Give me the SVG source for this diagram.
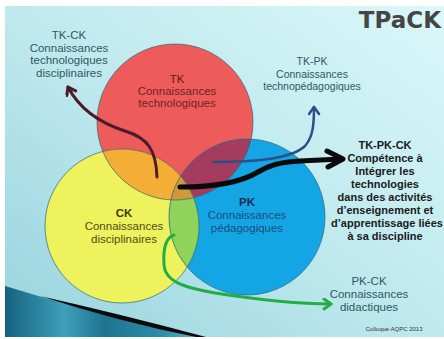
<svg xmlns="http://www.w3.org/2000/svg" width="444" height="339" viewBox="0 0 444 339">
<style>
  .lbl { font-family: "Liberation Sans", Arial, sans-serif; font-size: 11.5px; text-anchor: middle; }
  .teal { fill: #2f5862; }
  .b { font-weight: bold; }
  .outline { fill: none; stroke: #2d6575; stroke-width: 1; stroke-opacity: 0.7; }
  .conn { fill: none; stroke-linecap: round; stroke-linejoin: round; }
</style>
<defs>
  <linearGradient id="bg" x1="0" y1="1" x2="1" y2="0">
    <stop offset="0" stop-color="#98d3de"/>
    <stop offset="0.5" stop-color="#bfe9ee"/>
    <stop offset="1" stop-color="#dbf7f9"/>
  </linearGradient>
  <linearGradient id="swoosh" x1="5" y1="0" x2="205" y2="0" gradientUnits="userSpaceOnUse">
    <stop offset="0" stop-color="#14637e"/>
    <stop offset="0.3" stop-color="#3f9fbd"/>
    <stop offset="0.5" stop-color="#1c7490"/>
    <stop offset="0.8" stop-color="#2f8eab"/>
    <stop offset="1" stop-color="#6cc0d6"/>
  </linearGradient>
  <clipPath id="clipR"><circle cx="175" cy="122" r="78"/></clipPath>
  <clipPath id="clipY"><circle cx="122" cy="226" r="77"/></clipPath>
  <marker id="mMaroon" markerUnits="userSpaceOnUse" markerWidth="14" markerHeight="14" refX="9" refY="6" orient="auto">
    <path d="M2,1 L9,6 L2,11" fill="none" stroke="#4d1a2a" stroke-width="3" stroke-linecap="round" stroke-linejoin="round"/>
  </marker>
  <marker id="mBlue" markerUnits="userSpaceOnUse" markerWidth="14" markerHeight="14" refX="9" refY="6" orient="auto">
    <path d="M2,1 L9,6 L2,11" fill="none" stroke="#2c4f8a" stroke-width="2.5" stroke-linecap="round" stroke-linejoin="round"/>
  </marker>
  <marker id="mGreen" markerUnits="userSpaceOnUse" markerWidth="14" markerHeight="14" refX="9" refY="6" orient="auto">
    <path d="M2,1 L9,6 L2,11" fill="none" stroke="#22ad45" stroke-width="3" stroke-linecap="round" stroke-linejoin="round"/>
  </marker>
</defs>

<!-- frame and background -->
<rect x="0" y="0" width="444" height="339" fill="#ffffff"/>
<rect x="5" y="6" width="439" height="331" fill="url(#bg)"/>
<path d="M5,286 L45,298 L205,337 L5,337 Z" fill="url(#swoosh)"/>
<path d="M40,296 Q120,314 206,337 L196,337 Q120,322 40,296 Z" fill="#0a0a0a"/>

<text x="441" y="28" font-family="DejaVu Sans, sans-serif" font-size="23" font-weight="bold" fill="#454545" text-anchor="end">TPaCK</text>

<!-- circles -->
<g id="node-tk">
  <circle cx="175" cy="122" r="78" fill="#ee5b5b"/>
</g>
<g id="node-ck">
  <circle cx="122" cy="226" r="77" fill="#eef25c"/>
</g>
<g id="node-pk">
  <circle cx="247" cy="217" r="78" fill="#14a6e4"/>
</g>
<g id="overlaps">
  <circle cx="122" cy="226" r="77" fill="#f4ae36" clip-path="url(#clipR)"/>
  <circle cx="247" cy="217" r="78" fill="#a43c60" clip-path="url(#clipR)"/>
  <circle cx="247" cy="217" r="78" fill="#8fd35a" clip-path="url(#clipY)"/>
  <g clip-path="url(#clipR)">
    <circle cx="247" cy="217" r="78" fill="#d09a3c" clip-path="url(#clipY)"/>
  </g>
</g>
<g id="outlines">
  <circle class="outline" cx="175" cy="122" r="78"/>
  <circle class="outline" cx="122" cy="226" r="77"/>
  <circle class="outline" cx="247" cy="217" r="78"/>
</g>

<!-- circle labels -->
<g id="label-tk" class="lbl" fill="#6e2424">
  <text x="177" y="83" fill="#5a1c1c">TK</text>
  <text x="177" y="95">Connaissances</text>
  <text x="177" y="107">technologiques</text>
</g>
<g id="label-ck" class="lbl" fill="#4e4e16">
  <text x="124" y="217" class="b" fill="#3a3a10">CK</text>
  <text x="124" y="230">Connaissances</text>
  <text x="124" y="243">disciplinaires</text>
</g>
<g id="label-pk" class="lbl" fill="#1d4c7a">
  <text x="247" y="206" class="b" fill="#1a2a50">PK</text>
  <text x="247" y="219">Connaissances</text>
  <text x="247" y="232">pédagogiques</text>
</g>

<!-- outer labels -->
<g id="node-tkck" class="lbl teal">
  <text x="69" y="39">TK-CK</text>
  <text x="69" y="52">Connaissances</text>
  <text x="69" y="64">technologiques</text>
  <text x="69" y="77">disciplinaires</text>
</g>
<g id="node-tkpk" class="lbl teal" font-size="10.5">
  <text x="312" y="65" style="font-size:10.5px">TK-PK</text>
  <text x="312" y="78" style="font-size:10.5px">Connaissances</text>
  <text x="312" y="90" style="font-size:10.5px">technopédagogiques</text>
</g>
<g id="node-tkpkck" class="lbl b" fill="#1a1a1a" style="font-size:11px">
  <text x="385" y="149">TK-PK-CK</text>
  <text x="385" y="162">Compétence à</text>
  <text x="385" y="175">Intégrer les</text>
  <text x="385" y="188">technologies</text>
  <text x="385" y="201">dans des activités</text>
  <text x="385" y="214">d’enseignement et</text>
  <text x="387" y="227">d’apprentissage liées</text>
  <text x="385" y="240">à sa discipline</text>
</g>
<g id="node-pkck" class="lbl teal">
  <text x="369" y="285">PK-CK</text>
  <text x="369" y="298">Connaissances</text>
  <text x="369" y="311">didactiques</text>
</g>
<text x="394" y="331" font-family="Liberation Sans, Arial, sans-serif" font-size="6" fill="#333333" text-anchor="middle">Colloque AQPC 2013</text>

<!-- connectors -->
<g id="connectors">
  <path class="conn" d="M157,177 C156,150 148,138 125,131 C100,123 80,110 68,87" stroke="#4d1a2a" stroke-width="3" marker-end="url(#mMaroon)"/>
  <path class="conn" d="M213,162 C250,162 290,160 305,146 C313,137 314,125 314,107" stroke="#2c4f8a" stroke-width="2.5" marker-end="url(#mBlue)"/>
  <path class="conn" d="M180,187 C215,187 240,183 258,172 C270,165 280,162 300,161 L341,159" stroke="#0a0a0a" stroke-width="5"/>
  <polyline class="conn" points="327,151 343,159 328,167" stroke="#0a0a0a" stroke-width="5"/>
  <path class="conn" d="M174,235 C165,238 163,250 164,265 C165,280 180,287 215,293 C260,300 295,304 331,304" stroke="#22ad45" stroke-width="3" marker-end="url(#mGreen)"/>
</g>
</svg>
